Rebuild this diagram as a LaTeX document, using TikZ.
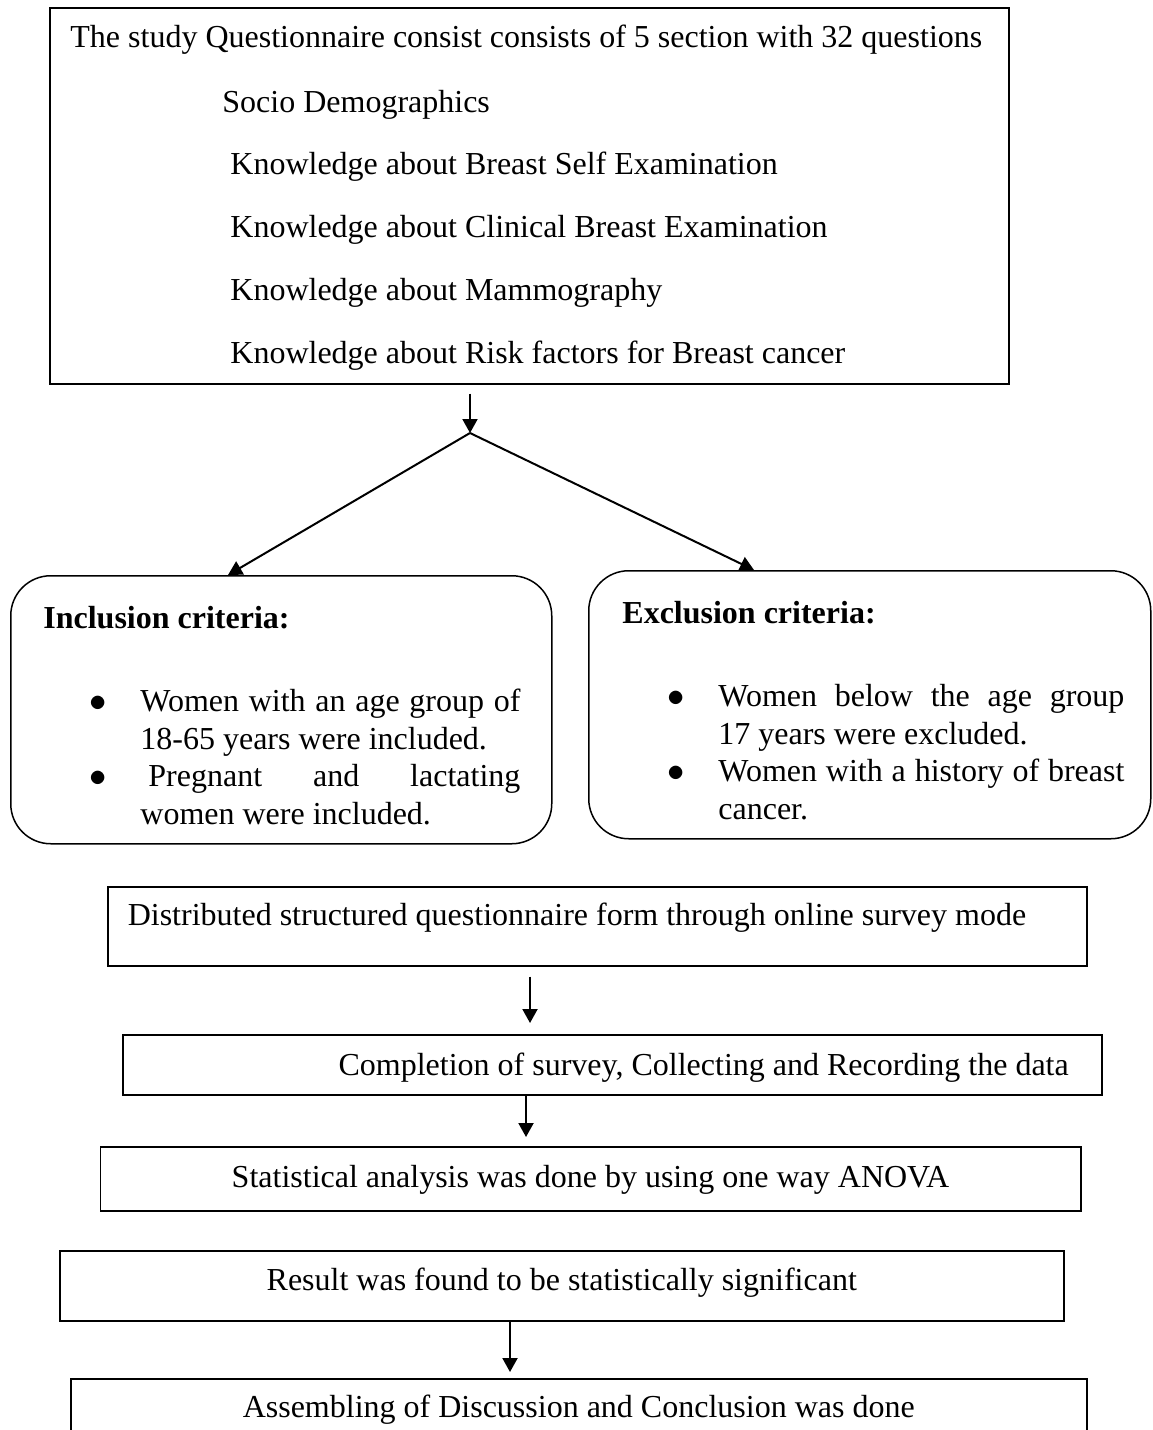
\documentclass[tikz,border=0pt]{standalone}
\usepackage{fontspec}
\setmainfont{Liberation Serif}
\usetikzlibrary{arrows.meta}

\hbadness=10000
\hfuzz=3pt
\hyphenpenalty=10000
\exhyphenpenalty=10000
\newcommand{\critem}{\par\leftskip=23.5pt\noindent\llap{$\bullet$\hspace{17pt}}}

\tikzset{
  box/.style={draw, line width=0.75pt, inner sep=0pt},
  critbox/.style={box, rounded corners=20pt},
  txt/.style={inner sep=0pt, anchor=base west},
  critlist/.style={inner sep=0pt, anchor=north west, align=justify},
  link/.style={line width=1pt},
  arr/.style={link, -{Triangle[length=7pt,width=7.5pt]}}
}

\begin{document}
\begin{tikzpicture}[x=0.5pt, y=-0.5pt, every node/.style={font=\fontsize{16pt}{18.7pt}\selectfont}]
  \useasboundingbox (0,0) rectangle (1152,1430);
  \clip (0,0) rectangle (1152,1430);

  % questionnaire sections
  \node[box, anchor=north west, minimum width=479.5pt, minimum height=188pt] (quest) at (49,7) {};
  \node[txt] (qhead) at (70,47) {The study Questionnaire consist consists of 5 section with 32 questions};
  \node[txt] (qsocio) at (222,112) {Socio Demographics};
  \node[txt] (qbse) at (230,174) {Knowledge about Breast Self Examination};
  \node[txt] (qcbe) at (230,237) {Knowledge about Clinical Breast Examination};
  \node[txt] (qmammo) at (230,300) {Knowledge about Mammography};
  \node[txt] (qrisk) at (230,363) {Knowledge about Risk factors for Breast cancer};

  \coordinate (split) at (470,433);

  % criteria
  \node[critbox, anchor=north west, minimum width=270.5pt, minimum height=134pt] (incl) at (10,575) {};
  \node[txt] (incltitle) at (43,628) {\textbf{Inclusion criteria:}};
  \node[critlist, text width=213.5pt] (incllist) at (93,674) {\critem\rule{0pt}{12pt}Women with an age group of\linebreak 18-65 years were included.\critem\hspace*{4pt}Pregnant and lactating\linebreak women were included.\par};

  \node[critbox, anchor=north west, minimum width=281pt, minimum height=134pt] (excl) at (588,570) {};
  \node[txt] (excltitle) at (622,623) {\textbf{Exclusion criteria:}};
  \node[critlist, text width=226.5pt] (excllist) at (671,669) {\critem\rule{0pt}{12pt}Women below the age group\linebreak 17 years were excluded.\critem Women with a history of breast\linebreak cancer.\par};

  \draw[arr, shorten <=4.5pt] (quest.south -| split) -- (split);
  \draw[arr] (split) -- (incl.north -| 228,0);
  \draw[arr] (split) -- (excl.north -| 754,0);

  % survey steps
  \node[box, anchor=north west, text width=469.5pt, inner xsep=10pt, align=flush left, text height=19.5pt, text depth=20pt] (dist) at (107,886) {Distributed structured questionnaire form through online survey mode};
  \node[box, anchor=north west, text width=456.5pt, inner xsep=16.5pt, align=flush right, text height=20.5pt, text depth=9.5pt] (compl) at (122,1034) {Completion of survey, Collecting and Recording the data};
  \node[box, anchor=north west, minimum width=490.25pt, text height=20.5pt, text depth=11.5pt] (stat) at (99.5,1146) {Statistical analysis was done by using one way ANOVA};
  \node[box, anchor=north west, minimum width=502pt, text height=20pt, text depth=15pt] (result) at (59,1250) {Result was found to be statistically significant};
  \node[box, anchor=north west, minimum width=508pt, text height=19.5pt, text depth=12.5pt] (assem) at (70,1378) {Assembling of Discussion and Conclusion was done};

  \draw[arr, shorten <=5pt, shorten >=5.5pt] (dist.south -| 530,0) -- (compl.north -| 530,0);
  \draw[arr, shorten >=4.5pt] (compl.south -| 526,0) -- (stat.north -| 526,0);
  \draw[arr, shorten >=3pt] (result.south -| 510,0) -- (assem.north -| 510,0);
\end{tikzpicture}
\end{document}
